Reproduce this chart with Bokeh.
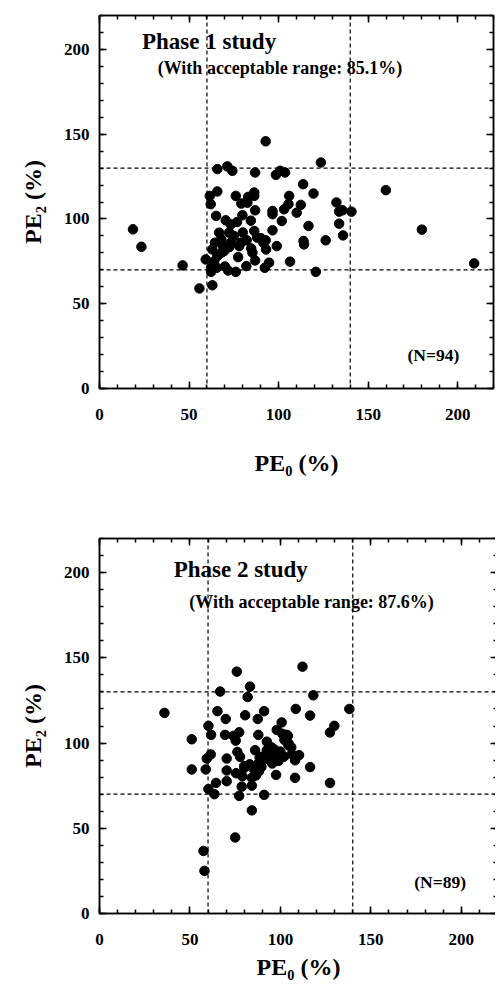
from bokeh.plotting import figure
from bokeh.models import (Range1d, LinearAxis, SingleIntervalTicker, Span, Label,
                          CustomJSTickFormatter)
from bokeh.layouts import column
from bokeh.embed import file_html
from bokeh.resources import INLINE

# ---------------- data ----------------
phase1_pe0 = [18.7, 23.4, 46.4, 55.8, 59.3, 61.6, 62.1, 62.3, 62.3, 63.0,
              65.1, 65.8, 65.8, 64.5, 65.5, 65.8, 66.8, 71.4, 70.5, 69.0,
              69.6, 71.8, 72.4, 74.2, 76.1, 76.1, 76.8, 77.4, 78.0, 72.4,
              73.3, 79.2, 79.8, 82.2, 82.0, 83.0, 84.7, 85.4, 86.4, 86.4,
              86.9, 86.9, 86.4, 86.9, 90.2, 91.5, 92.3, 92.8, 92.8, 94.7,
              96.6, 96.6, 96.6, 98.5, 99.0, 100.9, 101.8, 103.1, 103.6, 105.5,
              105.9, 106.4, 110.1, 112.4, 113.7, 113.9, 114.2, 116.7, 119.5, 120.8,
              123.6, 126.3, 132.3, 133.8, 133.8, 136.0, 135.7, 140.7, 159.9, 180.0,
              209.2, 82.6, 73.3, 68.0, 68.0, 75.0, 64.0, 70.0, 79.0, 88.0,
              84.5, 63.0, 93.0, 80.0]
phase1_pe2 = [93.9, 83.6, 72.6, 59.0, 76.1, 113.6, 108.7, 71.2, 68.8, 60.9,
              101.8, 129.4, 116.2, 86.0, 71.2, 78.1, 91.9, 131.0, 99.2, 84.0,
              81.1, 69.6, 91.9, 128.4, 113.6, 68.8, 98.2, 77.5, 84.0, 83.4,
              86.0, 109.1, 102.2, 87.4, 72.2, 113.0, 82.6, 80.1, 115.6, 113.6,
              127.4, 105.1, 92.9, 75.5, 88.6, 86.0, 71.2, 145.8, 87.4, 74.2,
              104.7, 102.8, 93.3, 126.0, 84.0, 128.4, 98.8, 105.7, 127.4, 108.7,
              113.6, 74.8, 103.7, 108.3, 120.5, 87.0, 85.0, 95.9, 115.0, 68.8,
              133.3, 87.4, 109.7, 104.3, 97.2, 90.3, 105.1, 104.3, 117.0, 93.7,
              73.8, 109.6, 96.8, 88.0, 80.0, 90.0, 75.0, 72.0, 86.0, 89.0,
              99.0, 82.0, 82.0, 92.0]

phase2_pe0 = [35.9, 51.0, 51.0, 58.7, 57.5, 58.0, 59.3, 60.2, 61.7, 61.5,
              60.2, 63.5, 64.4, 65.2, 66.7, 69.4, 69.8, 70.3, 70.3, 70.3,
              75.3, 75.9, 75.0, 76.2, 77.2, 77.7, 75.5, 77.2, 78.6, 80.1,
              80.5, 81.9, 83.2, 84.2, 84.2, 84.2, 83.8, 86.0, 87.5, 87.8,
              88.2, 87.8, 91.0, 91.0, 92.5, 92.5, 91.5, 94.3, 96.7, 97.6,
              98.0, 98.0, 98.9, 100.7, 101.1, 102.2, 104.1, 104.4, 106.3, 108.1,
              108.1, 108.5, 110.3, 112.2, 116.4, 116.4, 118.2, 127.4, 129.8, 127.4,
              138.1, 74.0, 80.0, 83.0, 85.5, 89.5, 90.0, 93.5, 95.0, 100.0,
              102.0, 103.5, 104.5, 106.0, 97.0, 95.5, 88.5, 79.0, 86.5]
phase2_pe2 = [117.7, 102.2, 84.5, 84.5, 36.7, 25.0, 90.9, 110.1, 104.8, 93.3,
              73.0, 70.0, 76.6, 118.7, 130.2, 104.8, 114.1, 90.9, 83.9, 77.6,
              101.4, 141.9, 44.6, 94.8, 106.3, 91.9, 82.3, 69.0, 74.4, 85.5,
              116.3, 127.0, 133.1, 60.5, 79.6, 75.0, 86.9, 95.8, 114.1, 104.8,
              83.5, 87.9, 118.7, 69.6, 100.8, 95.8, 90.9, 89.9, 96.2, 81.3,
              107.7, 91.3, 89.5, 112.1, 105.4, 101.8, 104.2, 98.8, 93.5, 89.9,
              79.6, 120.0, 92.9, 144.8, 116.1, 85.9, 128.0, 106.2, 110.1, 76.6,
              120.0, 104.2, 86.5, 87.5, 84.5, 86.0, 92.0, 93.5, 97.5, 95.0,
              92.0, 104.8, 99.8, 97.5, 89.9, 88.0, 91.5, 80.5, 81.0]

pe0_limits = [60, 140]
pe2_limits = [70, 130]
axis_max = 220
tick_interval = 50

panel_titles = ["Phase 1 study", "Phase 2 study"]
panel_subtitles = ["(With acceptable range:  85.1%)", "(With acceptable range: 87.6%)"]
panel_counts = ["(N=94)", "(N=89)"]

FONT = "Liberation Serif"


def make_panel(pe0, pe2, title, subtitle, count, title_xy, sub_xy, n_xy,
               border_left, frame_w, frame_h, border_top, border_bottom,
               xlab_standoff):
    p = figure(frame_width=frame_w, frame_height=frame_h,
               x_range=Range1d(0, axis_max), y_range=Range1d(0, axis_max),
               output_backend="svg", toolbar_location=None,
               min_border_left=border_left, min_border_right=2,
               min_border_top=border_top, min_border_bottom=border_bottom)
    p.grid.visible = False
    p.background_fill_color = "white"
    p.border_fill_color = "white"
    p.outline_line_color = "black"
    p.outline_line_width = 1.5

    top_ax = LinearAxis(formatter=CustomJSTickFormatter(code="return ''"))
    right_ax = LinearAxis(formatter=CustomJSTickFormatter(code="return ''"))
    p.add_layout(top_ax, "above")
    p.add_layout(right_ax, "right")

    for ax in p.xaxis + p.yaxis:
        ax.ticker = SingleIntervalTicker(interval=tick_interval, num_minor_ticks=5)
        ax.axis_line_color = "black"
        ax.axis_line_width = 1.5
        ax.major_tick_in = 7
        ax.major_tick_out = 0
        ax.minor_tick_in = 4
        ax.minor_tick_out = 0
        ax.major_tick_line_width = 1.5
        ax.minor_tick_line_width = 1.5
        ax.major_tick_line_color = "black"
        ax.minor_tick_line_color = "black"
        ax.major_label_text_font = FONT
        ax.major_label_text_font_style = "bold"
        ax.major_label_text_font_size = "17px"
        ax.major_label_text_color = "black"
        ax.axis_label_text_font = FONT
        ax.axis_label_text_font_style = "bold"
        ax.axis_label_text_font_size = "24px"
        ax.axis_label_text_color = "black"

    for ax in (top_ax, right_ax):
        ax.major_label_standoff = 0

    xax = p.below[0]
    yax = p.left[0]
    xax.axis_label = "PE\u2080 (%)"
    yax.axis_label = "PE\u2082 (%)"
    xax.major_label_standoff = 20
    xax.axis_label_standoff = xlab_standoff
    yax.major_label_standoff = 10
    yax.axis_label_standoff = 15

    for v in pe0_limits:
        p.add_layout(Span(location=v, dimension="height", line_color="black",
                          line_width=1.2, line_dash="4 3"))
    for v in pe2_limits:
        p.add_layout(Span(location=v, dimension="width", line_color="black",
                          line_width=1.2, line_dash="4 3"))

    p.scatter(pe0, pe2, size=9.5, color="black")

    p.add_layout(Label(x=title_xy[0], y=title_xy[1], text=title,
                       text_font=FONT, text_font_style="bold",
                       text_font_size="23px", text_color="black"))
    p.add_layout(Label(x=sub_xy[0], y=sub_xy[1], text=subtitle,
                       text_font=FONT, text_font_style="bold",
                       text_font_size="18px", text_color="black"))
    p.add_layout(Label(x=n_xy[0], y=n_xy[1], text=count,
                       text_font=FONT, text_font_style="bold",
                       text_font_size="17.5px", text_color="black"))
    return p


p1 = make_panel(phase1_pe0, phase1_pe2, panel_titles[0], panel_subtitles[0],
                panel_counts[0], (23.7, 197), (32.5, 183), (172, 14),
                border_left=99, frame_w=394, frame_h=373, border_top=15,
                border_bottom=110, xlab_standoff=27)
p2 = make_panel(phase2_pe0, phase2_pe2, panel_titles[1], panel_subtitles[1],
                panel_counts[1], (41, 194.6), (49.6, 176.8), (174, 12.5),
                border_left=95, frame_w=398, frame_h=375, border_top=40,
                border_bottom=72, xlab_standoff=6)

layout = column(p1, p2, spacing=0)
open("out.html", "w").write(file_html(layout, INLINE))
